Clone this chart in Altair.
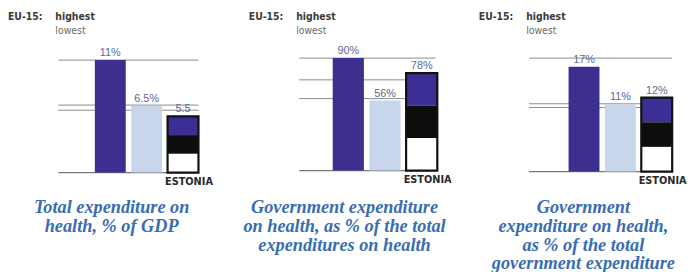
import altair as alt
import pandas as pd

# ---- data ----
categories = ["highest", "lowest", "Estonia"]
p1_values = [11.0, 6.5, 5.5]
p1_labels = ["11%", "6.5%", "5.5"]
p1_refs = [11.0, 6.6, 6.1]

p2_values = [90.0, 56.0, 78.0]
p2_labels = ["90%", "56%", "78%"]
p2_refs = [90.0, 72.6, 57.6]

p3_values = [17.0, 11.0, 12.0]
p3_labels = ["17%", "11%", "12%"]
p3_refs = [18.4, 11.0, 10.4]

titles = [
    ["Total expenditure on", "health, % of GDP"],
    ["Government expenditure", "on health, as % of the total", "expenditures on health"],
    ["Government", "expenditure on health,", "as % of the total", "government expenditure"],
]

DARK = "#3c2f8f"
LIGHT = "#c8d6ec"
FLAG_BLUE = "#3b2f95"
TITLE_BLUE = "#3a6cb2"
LABEL_COL = "#5c6a98"
NARROW = "Liberation Sans Narrow, DejaVu Sans Condensed, Roboto, sans-serif"
H = 264


def panel(values, labels, refs, title_lines, width, bar_range, rule_x, y_range, title_cx):
    ymax = refs[0] if refs[0] > values[0] else values[0]
    ysc = alt.Scale(domain=[0, ymax], range=y_range)
    xsc = alt.Scale(domain=categories, range=bar_range, paddingInner=0.15, paddingOuter=0)

    bars = pd.DataFrame({"cat": categories, "v": values, "lab": labels})
    eu = bars[bars.cat != "Estonia"]
    ee = bars[bars.cat == "Estonia"]

    ev = values[2]
    flag = pd.DataFrame({
        "cat": ["Estonia"] * 3,
        "y0": [ev * 2 / 3, ev / 3, 0.0],
        "y1": [ev, ev * 2 / 3, ev / 3],
        "c": ["blue", "black", "white"],
    })

    ref_df = pd.DataFrame({"r": refs})

    rules = alt.Chart(ref_df).mark_rule(color="#8a8a8a", strokeWidth=1).encode(
        y=alt.Y("r:Q", scale=ysc, axis=None),
        x=alt.value(rule_x[0]), x2=alt.value(rule_x[1]),
    )
    base_rule = alt.Chart(ref_df.head(1)).mark_rule(color="#777", strokeWidth=1.2).encode(
        y=alt.value(y_range[0]),
        x=alt.value(rule_x[0]), x2=alt.value(rule_x[1]),
    )
    eu_bars = alt.Chart(eu).mark_bar().encode(
        x=alt.X("cat:N", scale=xsc, axis=None),
        y=alt.Y("v:Q", scale=ysc, axis=None),
        color=alt.Color("cat:N", scale=alt.Scale(domain=["highest", "lowest"], range=[DARK, LIGHT]), legend=None),
    )
    flag_bars = alt.Chart(flag).mark_bar().encode(
        x=alt.X("cat:N", scale=xsc, axis=None),
        y=alt.Y("y0:Q", scale=ysc, axis=None),
        y2="y1:Q",
        color=alt.Color("c:N", scale=alt.Scale(domain=["blue", "black", "white"], range=[FLAG_BLUE, "#0d0d0d", "#ffffff"]), legend=None),
    )
    flag_border = alt.Chart(ee).mark_bar(fill=None, stroke="#111", strokeWidth=2.2).encode(
        x=alt.X("cat:N", scale=xsc, axis=None),
        y=alt.Y("v:Q", scale=ysc, axis=None),
    )
    value_labels = alt.Chart(bars).mark_text(
        baseline="bottom", dy=-2, fontSize=11, color=LABEL_COL, font="Liberation Sans"
    ).encode(
        x=alt.X("cat:N", scale=xsc, axis=None, bandPosition=0.5),
        y=alt.Y("v:Q", scale=ysc, axis=None),
        text="lab:N",
    )
    estonia_lbl = alt.Chart(ee).mark_text(
        baseline="top", dy=4, dx=6, fontSize=11, fontWeight="bold", color="#2a2a2a", font=NARROW,
    ).encode(
        x=alt.X("cat:N", scale=xsc, axis=None, bandPosition=0.5),
        y=alt.value(y_range[0]),
        text=alt.value("ESTONIA"),
    )
    hdr_df = pd.DataFrame({"t": ["EU-15:", "highest", "lowest"]})
    eu_txt = alt.Chart(hdr_df.iloc[[0]]).mark_text(
        align="left", baseline="middle", fontSize=10.5, fontWeight="bold", color="#3a3a3a", font=NARROW,
    ).encode(x=alt.value(rule_x[0] - 51), y=alt.value(7), text="t:N")
    hi_txt = alt.Chart(hdr_df.iloc[[1]]).mark_text(
        align="left", baseline="middle", fontSize=10.5, fontWeight="bold", color="#3a3a3a", font=NARROW,
    ).encode(x=alt.value(rule_x[0] - 3), y=alt.value(7), text="t:N")
    lo_txt = alt.Chart(hdr_df.iloc[[2]]).mark_text(
        align="left", baseline="middle", fontSize=10.5, color="#6a6a6a", font=NARROW,
    ).encode(x=alt.value(rule_x[0] - 3), y=alt.value(22), text="t:N")

    tdf = pd.DataFrame({"t": title_lines, "i": list(range(len(title_lines)))})
    title_txt = alt.Chart(tdf).mark_text(
        align="center", baseline="middle", fontSize=18.5, fontStyle="italic", fontWeight="bold",
        color=TITLE_BLUE, font="Liberation Serif",
    ).encode(
        x=alt.value(title_cx),
        y=alt.Y("i:Q", scale=alt.Scale(domain=[0, 3], range=[200, 257]), axis=None),
        text="t:N",
    )

    return alt.layer(
        rules, base_rule, eu_bars, flag_bars, flag_border, value_labels, estonia_lbl,
        eu_txt, hi_txt, lo_txt, title_txt,
    ).resolve_scale(color="independent", y="independent").properties(width=width, height=H)


p1 = panel(p1_values, p1_labels, p1_refs, titles[0], 230, [87, 192], [50, 192], [165, 51], 104)
p2 = panel(p2_values, p2_labels, p2_refs, titles[1], 232, [98, 204], [64, 202], [163, 49], 110)
p3 = panel(p3_values, p3_labels, p3_refs, titles[2], 217, [105, 210], [65, 210], [164, 49], 120)

chart = alt.hconcat(p1, p2, p3, spacing=0).properties(padding=0).configure_view(stroke=None)
chart.save("out.html", embed_options={"renderer": "svg", "actions": False})
